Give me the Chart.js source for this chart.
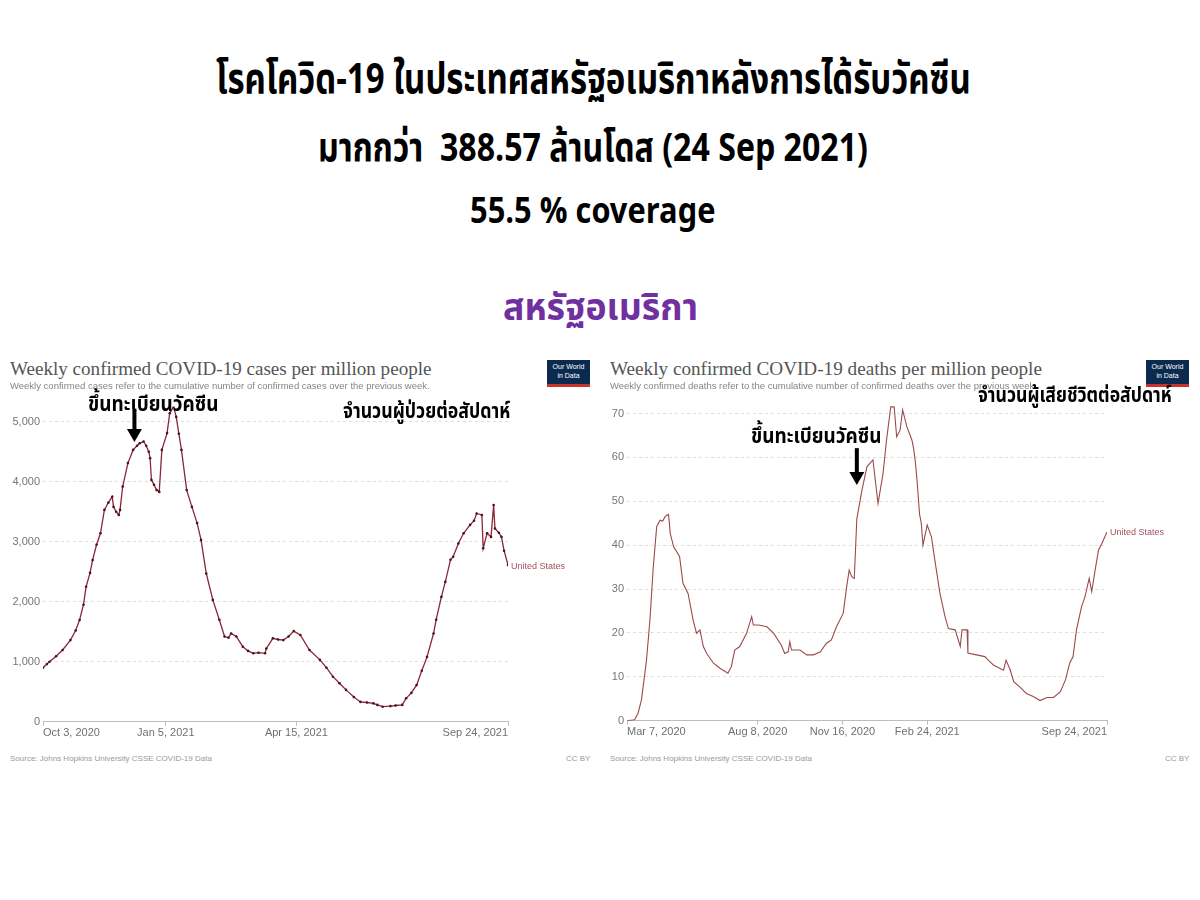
<!DOCTYPE html>
<html><head><meta charset="utf-8">
<script src="https://cdn.jsdelivr.net/npm/chart.js@4.4.1/dist/chart.umd.min.js"></script>
<style>
html,body{margin:0;padding:0;background:#fff;width:1200px;height:900px;overflow:hidden;position:relative;}
.t{position:absolute;white-space:pre;transform-origin:0 0;line-height:1.25;}
canvas{position:absolute;}
.logo{position:absolute;width:43px;height:22px;background:#0b2a4f;border-bottom:3px solid #c8332c;color:#fff;font:7px/9px "Liberation Sans",Arial,sans-serif;text-align:center;padding-top:2px;box-sizing:content-box;}
</style></head><body>
<canvas id="c1" width="600" height="360" style="left:0;top:390px;"></canvas>
<canvas id="c2" width="600" height="360" style="left:600px;top:390px;"></canvas>
<script>
// ---------- DATA ----------
const seriesName = 'United States';

// Weekly confirmed cases per million (days since Oct 3, 2020)
const casesDays = [0,3,5,10,15,21,25,28,31,33,36,38,41,44,47,50,53,54,56,58,59,61,65,69,72,74,77,79,81,82,83,85,87,89,91,95,97,100,102,104,106,110,114,118,121,125,130,135,139,142,144,148,153,157,161,165,170,171,176,180,184,188,192,197,204,212,217,222,227,232,238,243,248,253,256,260,266,270,275,278,282,286,290,294,299,301,305,308,312,314,318,322,327,330,332,336,337,340,343,345,346,349,351,353,356];
const casesValues = [900,960,1000,1090,1195,1360,1520,1695,1950,2250,2480,2695,2950,3140,3530,3650,3750,3580,3500,3445,3530,3920,4310,4530,4600,4640,4670,4600,4500,4390,4030,3950,3860,3830,4530,4810,5140,5250,5080,4800,4530,3860,3580,3310,3030,2470,2030,1700,1420,1400,1470,1420,1250,1180,1140,1150,1140,1220,1390,1370,1360,1420,1510,1445,1195,1030,900,750,640,530,410,330,320,305,280,250,260,270,280,390,480,610,850,1080,1470,1700,2080,2330,2700,2750,2970,3140,3280,3350,3470,3445,2890,3140,3080,3610,3220,3150,3080,2850,2610];
const casesTickDays = [0,94,194,356];
const casesTickLabels = ['Oct 3, 2020','Jan 5, 2021','Apr 15, 2021','Sep 24, 2021'];
const casesYTicks = [0,1000,2000,3000,4000,5000];

// Weekly confirmed deaths per million (days since Mar 7, 2020)
const deathsDays = [0,9,13,17,23,27,31,35,39,42,45,47,49,51,55,62,66,72,78,82,86,90,94,102,110,119,123,127,133,141,147,149,155,165,173,182,186,190,192,194,204,212,220,228,235,241,247,255,259,262,265,268,271,277,283,290,296,302,306,311,315,318,322,325,330,336,338,340,342,345,347,349,354,359,363,369,375,379,387,393,395,401,402,412,422,426,432,444,447,452,456,463,471,479,487,495,503,511,517,522,526,530,536,540,545,548,552,556,560,566];
const deathsValues = [0,0.2,1.7,4.7,13.8,22.9,35,44.2,45.7,45.5,46.5,46.8,47,42.7,39.6,37.4,31.3,29,22.9,19.9,20.7,16.9,15.3,13.1,11.9,10.8,12.3,16.1,16.9,19.9,23.7,21.8,21.8,21.4,19.9,17.2,15.3,15.7,18,16.1,16.1,15,15,15.7,17.6,18.4,21.4,24.5,30.5,34.3,32.8,32.4,46,52.5,57.9,59.4,49.5,56.4,63.9,71.5,71.5,64.7,66.2,70.8,67,63.9,62,59,54.8,47,45,40,44.6,41.9,36.6,29,23.7,21,20.7,16.9,20.7,20.7,15.4,15,14.6,13.8,12.7,11.5,13.8,11.5,8.9,7.7,6.2,5.5,4.6,5.3,5.3,6.6,9.3,13.1,14.6,20.7,26,28.2,32.4,29.4,34.3,38.9,40.4,43];
const deathsTickDays = [0,154,254,354,566];
const deathsTickLabels = ['Mar 7, 2020','Aug 8, 2020','Nov 16, 2020','Feb 24, 2021','Sep 24, 2021'];
const deathsYTicks = [0,10,20,30,40,50,60,70];

// vaccine-approval arrows (data coordinates: day, value from -> value to)
const casesArrow = {day:70, from:5195, to:4662};
const deathsArrow = {day:271, from:62.1, to:53.7};

// ---------- TEXT ----------
const THAI = '"Noto Sans Thai","Noto Sans Thai UI","Loma","Garuda","Norasi","Noto Sans",sans-serif';
function addText(txt, o){
  const d=document.createElement('div'); d.className='t'; d.textContent=txt;
  d.style.font=o.font; d.style.color=o.color||'#000';
  document.body.appendChild(d);
  const w=d.offsetWidth, h=d.offsetHeight;
  const s=o.w? o.w/w : 1;
  const tw=o.w||w;
  let left = o.cx!==undefined ? o.cx - tw/2 : (o.rx!==undefined ? o.rx - tw : o.x);
  d.style.left=left+'px'; d.style.top=(o.cy - h/2)+'px';
  d.style.transform='scaleX('+s+')';
  return d;
}
addText('โรคโควิด-19 ในประเทศสหรัฐอเมริกาหลังการได้รับวัคซีน',{font:'bold 42px '+THAI,cx:593,w:755,cy:80});
addText('มากกว่า  388.57 ล้านโดส (24 Sep 2021)',{font:'bold 40px '+THAI,cx:593,w:550,cy:149});
addText('55.5 % coverage',{font:'bold 36px '+THAI,cx:592,w:245,cy:212});
addText('สหรัฐอเมริกา',{font:'bold 38px '+THAI,color:'#7030a0',cx:600,w:195,cy:308});

const SERIF='"Liberation Serif","DejaVu Serif",serif';
const SANS='"Liberation Sans",Arial,sans-serif';
addText('Weekly confirmed COVID-19 cases per million people',{font:'19px '+SERIF,color:'#555',x:10,w:422,cy:369});
addText('Weekly confirmed cases refer to the cumulative number of confirmed cases over the previous week.',{font:'9.5px '+SANS,color:'#858585',x:10,cy:385});
addText('Weekly confirmed COVID-19 deaths per million people',{font:'19px '+SERIF,color:'#555',x:610,w:432,cy:369});
addText('Weekly confirmed deaths refer to the cumulative number of confirmed deaths over the previous week.',{font:'9.5px '+SANS,color:'#858585',x:610,cy:385});
addText('Source: Johns Hopkins University CSSE COVID-19 Data',{font:'8px '+SANS,color:'#9a9a9a',x:10,cy:758});
addText('CC BY',{font:'8px '+SANS,color:'#9a9a9a',rx:590,cy:758});
addText('Source: Johns Hopkins University CSSE COVID-19 Data',{font:'8px '+SANS,color:'#9a9a9a',x:610,cy:758});
addText('CC BY',{font:'8px '+SANS,color:'#9a9a9a',rx:1189,cy:758});

['547','1146'].forEach(l=>{const d=document.createElement('div');d.className='logo';d.style.left=l+'px';d.style.top='360px';d.innerHTML='Our World<br>in Data';document.body.appendChild(d);});

// ---------- CHARTS ----------
const overlay = {
  id:'overlay',
  afterDraw(chart, args, opts){
    const ctx=chart.ctx, xs=chart.scales.x, ys=chart.scales.y;
    ctx.save();
    ctx.font='11px '+SANS; ctx.fillStyle='#707070'; ctx.textBaseline='middle';
    const n=opts.tickDays.length;
    opts.tickDays.forEach((d,i)=>{
      const px=xs.getPixelForValue(d);
      ctx.textAlign = i===0?'left':(i===n-1?'right':'center');
      ctx.fillText(opts.tickLabels[i], px, ys.bottom+11);
    });
    const ds=chart.data.datasets[0]; const last=ds.data[ds.data.length-1];
    ctx.font='9px '+SANS; ctx.fillStyle='#a4505f'; ctx.textAlign='left';
    ctx.fillText(opts.name, xs.getPixelForValue(last.x)+3, ys.getPixelForValue(last.y)+1);
    const a=opts.arrow;
    const ax=xs.getPixelForValue(a.day), y1=ys.getPixelForValue(a.from), y2=ys.getPixelForValue(a.to);
    const head=13;
    ctx.fillStyle='#000';
    ctx.fillRect(ax-2, y1, 4, (y2-head)-y1+1);
    ctx.beginPath(); ctx.moveTo(ax-7.5,y2-head); ctx.lineTo(ax+7.5,y2-head); ctx.lineTo(ax,y2); ctx.closePath(); ctx.fill();
    ctx.restore();
  }
};

function makeChart(id, days, vals, yTicks, yMax, tickDays, tickLabels, arrow, yWidth, plotWidth, padTop, xHeight, lineColor, points){
  const xMax = tickDays[tickDays.length-1];
  return new Chart(document.getElementById(id), {
    type:'line',
    data:{datasets:[{
      data: days.map((d,i)=>({x:d,y:vals[i]})),
      borderColor: lineColor, borderWidth: points?1.3:1.1, tension:0,
      pointRadius: points?1.3:0, pointBackgroundColor:'#4a1420', pointBorderWidth:0
    }]},
    options:{
      responsive:false, animation:false, devicePixelRatio:1,
      layout:{padding:{left:0,right:600-(yWidth+plotWidth),top:padTop,bottom:0}},
      plugins:{legend:{display:false}, tooltip:{enabled:false}, overlay:{tickDays, tickLabels, name:seriesName, arrow}},
      scales:{
        x:{type:'linear', min:0, max:xMax,
          afterBuildTicks:s=>{s.ticks=tickDays.map(v=>({value:v}));},
          afterFit:s=>{s.height=xHeight;},
          ticks:{display:false},
          grid:{drawOnChartArea:false, drawTicks:true, tickLength:4, color:'#bdbdbd'},
          border:{display:true, color:'#bdbdbd', width:1}
        },
        y:{min:0, max:yMax,
          afterBuildTicks:s=>{s.ticks=yTicks.map(v=>({value:v}));},
          afterFit:s=>{s.width=yWidth;},
          ticks:{padding:3, color:'#757575', font:{family:SANS, size:11},
            callback:v=>v.toLocaleString('en-US')},
          grid:{drawTicks:false, color:'#dedede', lineWidth:1},
          border:{display:false, dash:[3,3]}
        }
      }
    },
    plugins:[overlay]
  });
}
makeChart('c1', casesDays, casesValues, casesYTicks, 5250, casesTickDays, casesTickLabels, casesArrow, 43, 465, 16.7, 28.3, '#8a2637', true);
makeChart('c2', deathsDays, deathsValues, deathsYTicks, 72, deathsTickDays, deathsTickLabels, deathsArrow, 27, 480, 14.7, 29.3, '#9b4a4a', false);

// annotations (real text over the charts)
addText('ขึ้นทะเบียนวัคซีน',{font:'bold 22px '+THAI,x:88,w:130,cy:404});
addText('จำนวนผู้ป่วยต่อสัปดาห์',{font:'bold 22px '+THAI,x:343,w:167,cy:411});
addText('ขึ้นทะเบียนวัคซีน',{font:'bold 22px '+THAI,x:751,w:130,cy:436});
addText('จำนวนผู้เสียชีวิตต่อสัปดาห์',{font:'bold 22px '+THAI,x:978,w:194,cy:395});
</script>
</body></html>
